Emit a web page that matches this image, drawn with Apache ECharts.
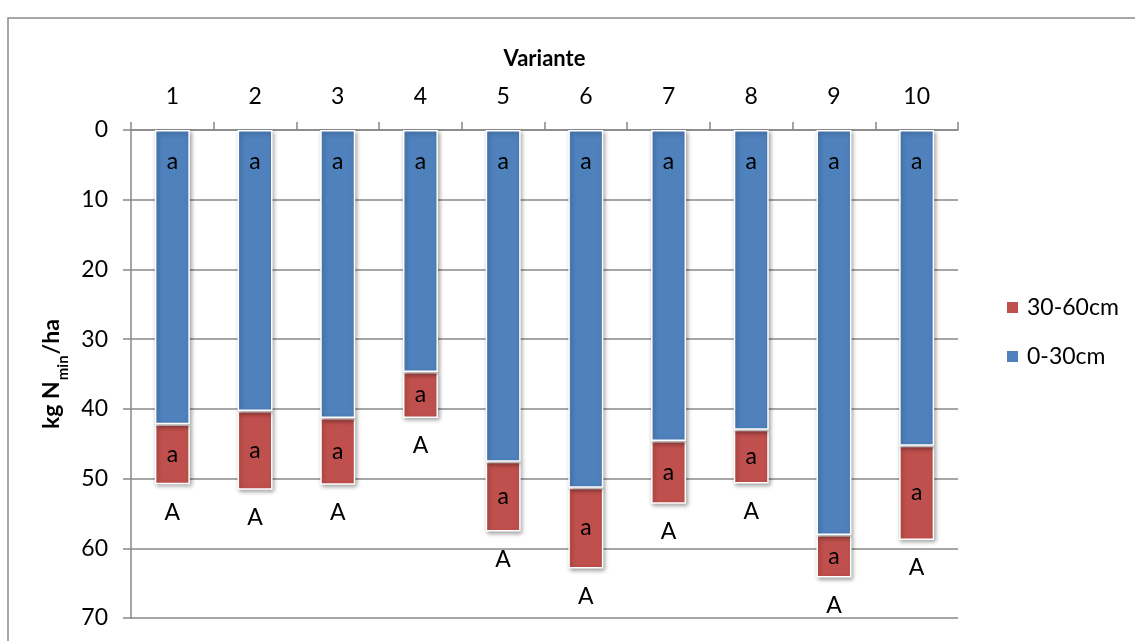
<!DOCTYPE html>
<html>
<head>
<meta charset="utf-8">
<script src="https://cdn.jsdelivr.net/npm/echarts@6/dist/echarts.min.js"></script>
<style>
  html, body { margin: 0; padding: 0; background: #ffffff; }
  #chart { width: 1135px; height: 641px; }
</style>
</head>
<body>
<div id="chart"></div>
<script>
// Nmin (kg/ha) per variant, by soil layer
const variants = ['1', '2', '3', '4', '5', '6', '7', '8', '9', '10'];
const layer0to30 = [42.2, 40.3, 41.3, 34.7, 47.6, 51.3, 44.6, 43.0, 58.1, 45.3];
const layer30to60 = [8.6, 11.3, 9.6, 6.6, 10.0, 11.6, 9.0, 7.7, 6.1, 13.5];
// significance letters
const letters0to30 = ['a', 'a', 'a', 'a', 'a', 'a', 'a', 'a', 'a', 'a'];
const letters30to60 = ['a', 'a', 'a', 'a', 'a', 'a', 'a', 'a', 'a', 'a'];
const lettersTotal = ['A', 'A', 'A', 'A', 'A', 'A', 'A', 'A', 'A', 'A'];
const yTicks = { min: 0, max: 70, interval: 10 };

const FONT = 'Lato, "Open Sans", sans-serif';
const BLUE = '#4F81BD';
const RED = '#C0504D';
const GRID = '#888888';
const FS = 23;

const totals = layer0to30.map((v, i) => +(v + layer30to60[i]).toFixed(1));

const barStyle = (color) => ({
  color: color,
  borderColor: '#ffffff',
  borderWidth: 1.5,
  shadowColor: 'rgba(0,0,0,0.35)',
  shadowBlur: 4,
  shadowOffsetX: 1.5,
  shadowOffsetY: 2
});

const chart = echarts.init(document.getElementById('chart'));
chart.setOption({
  animation: false,
  backgroundColor: '#ffffff',
  textStyle: { fontFamily: FONT },
  graphic: [{
    type: 'rect',
    shape: { x: 8, y: 18, width: 1140, height: 640 },
    style: { fill: 'none', stroke: '#8a8a8a', lineWidth: 1.5 },
    silent: true
  }],
  grid: { left: 131, right: 177, top: 130, bottom: 23 },
  legend: {
    orient: 'vertical',
    left: 1000,
    top: 291,
    itemWidth: 13,
    itemHeight: 13,
    itemGap: 26,
    icon: 'rect',
    textStyle: { fontFamily: FONT, fontSize: FS, color: '#000000', padding: [0, 0, 0, 3] },
    data: ['30-60cm', '0-30cm']
  },
  xAxis: {
    type: 'category',
    position: 'top',
    data: variants,
    name: 'Variante',
    nameLocation: 'middle',
    nameGap: 60,
    nameTextStyle: { fontFamily: FONT, fontSize: 22, fontWeight: 'bold', color: '#000000' },
    axisLine: { lineStyle: { color: GRID, width: 1.5 } },
    axisTick: { show: true, length: 8, lineStyle: { color: GRID, width: 1.5 } },
    axisLabel: { fontFamily: FONT, fontSize: FS, color: '#000000', margin: 22 },
    splitLine: { show: false }
  },
  yAxis: {
    type: 'value',
    inverse: true,
    min: yTicks.min,
    max: yTicks.max,
    interval: yTicks.interval,
    name: '{b|kg N}{s|min}{b|/ha}',
    nameLocation: 'middle',
    nameGap: 62,
    nameRotate: 90,
    nameTextStyle: {
      rich: {
        b: { fontFamily: FONT, fontSize: 23, fontWeight: 'bold', color: '#000000', verticalAlign: 'bottom', lineHeight: 27 },
        s: { fontFamily: FONT, fontSize: 15, fontWeight: 'bold', color: '#000000', verticalAlign: 'bottom', lineHeight: 27, padding: [0, 1, -7, 1] }
      }
    },
    axisLine: { show: true, lineStyle: { color: GRID, width: 1.5 } },
    axisTick: { show: true, length: 8, lineStyle: { color: GRID, width: 1.5 } },
    axisLabel: { fontFamily: FONT, fontSize: FS, color: '#000000', margin: 23 },
    splitLine: { show: true, lineStyle: { color: GRID, width: 1.5 } }
  },
  series: [
    {
      name: '0-30cm',
      type: 'bar',
      stack: 'nmin',
      barWidth: 35,
      data: layer0to30,
      itemStyle: barStyle(BLUE),
      label: {
        show: true,
        position: 'insideTop',
        distance: 20,
        fontFamily: FONT,
        fontSize: FS,
        color: '#000000',
        formatter: (p) => letters0to30[p.dataIndex]
      },
      z: 3
    },
    {
      name: '30-60cm',
      type: 'bar',
      stack: 'nmin',
      barWidth: 35,
      data: layer30to60,
      itemStyle: barStyle(RED),
      label: {
        show: true,
        position: 'inside',
        fontFamily: FONT,
        fontSize: FS,
        color: '#000000',
        formatter: (p) => letters30to60[p.dataIndex]
      },
      z: 2
    },
    {
      name: 'total',
      type: 'scatter',
      data: totals,
      symbol: 'rect',
      symbolSize: 1,
      itemStyle: { color: 'rgba(0,0,0,0)' },
      silent: true,
      label: {
        show: true,
        position: 'bottom',
        distance: 16,
        fontFamily: FONT,
        fontSize: FS,
        color: '#000000',
        opacity: 1,
        formatter: (p) => lettersTotal[p.dataIndex]
      },
      z: 4
    }
  ]
});
</script>
</body>
</html>
